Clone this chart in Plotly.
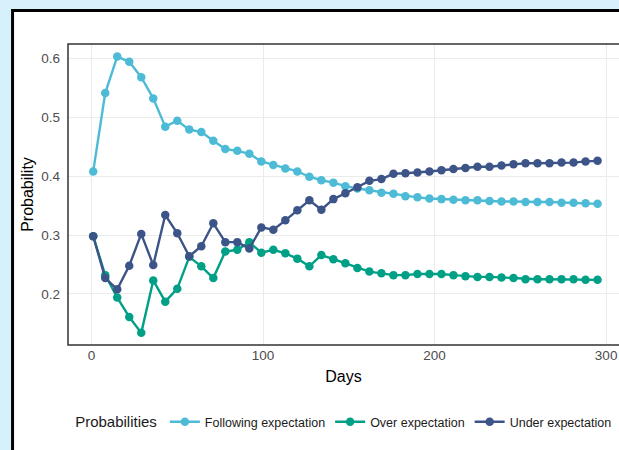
import plotly.graph_objects as go

days = list(range(1, 296, 7))

following = [0.408, 0.541, 0.603, 0.594, 0.568, 0.532, 0.484, 0.494, 0.479, 0.475,
             0.460, 0.446, 0.443, 0.438, 0.425, 0.419, 0.413, 0.408, 0.399, 0.393,
             0.389, 0.383, 0.379, 0.376, 0.372, 0.370, 0.366, 0.364, 0.362, 0.361,
             0.360, 0.359, 0.359, 0.358, 0.357, 0.357, 0.356, 0.356, 0.356, 0.355,
             0.355, 0.354, 0.353]
over = [0.298, 0.232, 0.194, 0.161, 0.134, 0.223, 0.187, 0.209, 0.263, 0.247,
        0.227, 0.272, 0.275, 0.288, 0.270, 0.275, 0.269, 0.260, 0.247, 0.266,
        0.259, 0.252, 0.244, 0.238, 0.235, 0.232, 0.232, 0.234, 0.234, 0.234,
        0.232, 0.230, 0.229, 0.229, 0.228, 0.227, 0.225, 0.225, 0.225, 0.225,
        0.225, 0.224, 0.224]
under = [0.298, 0.227, 0.208, 0.248, 0.302, 0.249, 0.334, 0.303, 0.264, 0.281,
         0.320, 0.288, 0.288, 0.277, 0.313, 0.309, 0.325, 0.342, 0.359, 0.343,
         0.361, 0.371, 0.381, 0.392, 0.395, 0.404, 0.405, 0.406, 0.408, 0.410,
         0.412, 0.414, 0.416, 0.416, 0.418, 0.420, 0.422, 0.422, 0.422, 0.423,
         0.423, 0.425, 0.426]

series_names = ["Following expectation", "Over expectation", "Under expectation"]
series_values = [following, over, under]
colors = ["#4DBBD5", "#00A087", "#3C5488"]

x_ticks = [0, 100, 200, 300]
y_ticks = [0.2, 0.3, 0.4, 0.5, 0.6]
y_tick_labels = ["0.2", "0.3", "0.4", "0.5", "0.6"]

fig = go.Figure()
for name, vals, col in zip(series_names, series_values, colors):
    fig.add_trace(go.Scatter(
        x=days, y=vals, name=name, mode="lines+markers",
        line=dict(color=col, width=2.4),
        marker=dict(color=col, size=8.5),
    ))

W, H = 619, 450
L, R, T, B = 67.5, 0, 44, 105
pw = W - L - R
ph = H - T - B

# outer white panel with black border
fig.add_shape(type="rect", xref="paper", yref="paper",
              x0=(12 - L) / pw, x1=(W + 20 - L) / pw,
              y0=-(H + 20 - T - ph) / ph, y1=(T + ph - 10.5) / ph,
              line=dict(color="#000000", width=3), fillcolor="#FFFFFF", layer="below")
# plot panel border
fig.add_shape(type="rect", xref="paper", yref="paper",
              x0=0, x1=(pw + 10) / pw, y0=0, y1=1,
              line=dict(color="#333333", width=1.5), fillcolor="rgba(0,0,0,0)", layer="above")

font_family = "Liberation Sans, Arial, sans-serif"

fig.update_layout(
    width=W, height=H,
    margin=dict(l=L, r=R, t=T, b=B, pad=0, autoexpand=False),
    paper_bgcolor="#D6F1FC",
    plot_bgcolor="rgba(0,0,0,0)",
    font=dict(family=font_family, color="#000000"),
    showlegend=True,
    legend=dict(
        orientation="h", x=0.503, xanchor="center", y=-0.256, yanchor="middle",
        title=dict(text="Probabilities", font=dict(size=15, color="#1A1A1A")),
        font=dict(size=12.5, color="#1A1A1A"),
        itemwidth=30, bgcolor="rgba(0,0,0,0)",
    ),
    xaxis=dict(
        range=[-13.7, 307.5], tickvals=x_ticks, ticktext=[str(v) for v in x_ticks],
        showgrid=True, gridcolor="#EBEBEB", gridwidth=1, zeroline=False,
        showline=False, ticks="", tickfont=dict(size=13.5, color="#4D4D4D"),
        automargin=False,
        title=dict(text="Days", font=dict(size=16, color="#000000"), standoff=9),
    ),
    yaxis=dict(
        range=[0.1134, 0.6243], tickvals=y_ticks, ticktext=y_tick_labels,
        showgrid=True, gridcolor="#EBEBEB", gridwidth=1, zeroline=False,
        showline=False, ticks="", ticklabelstandoff=7,
        tickfont=dict(size=13.5, color="#4D4D4D"),
        automargin=False,
        title=dict(text="Probability", font=dict(size=16, color="#000000"), standoff=3),
    ),
)

fig.write_html(
    "out.html",
    config={"displayModeBar": False},
    post_script="document.body.style.margin='0px';document.body.style.padding='0px';",
)
